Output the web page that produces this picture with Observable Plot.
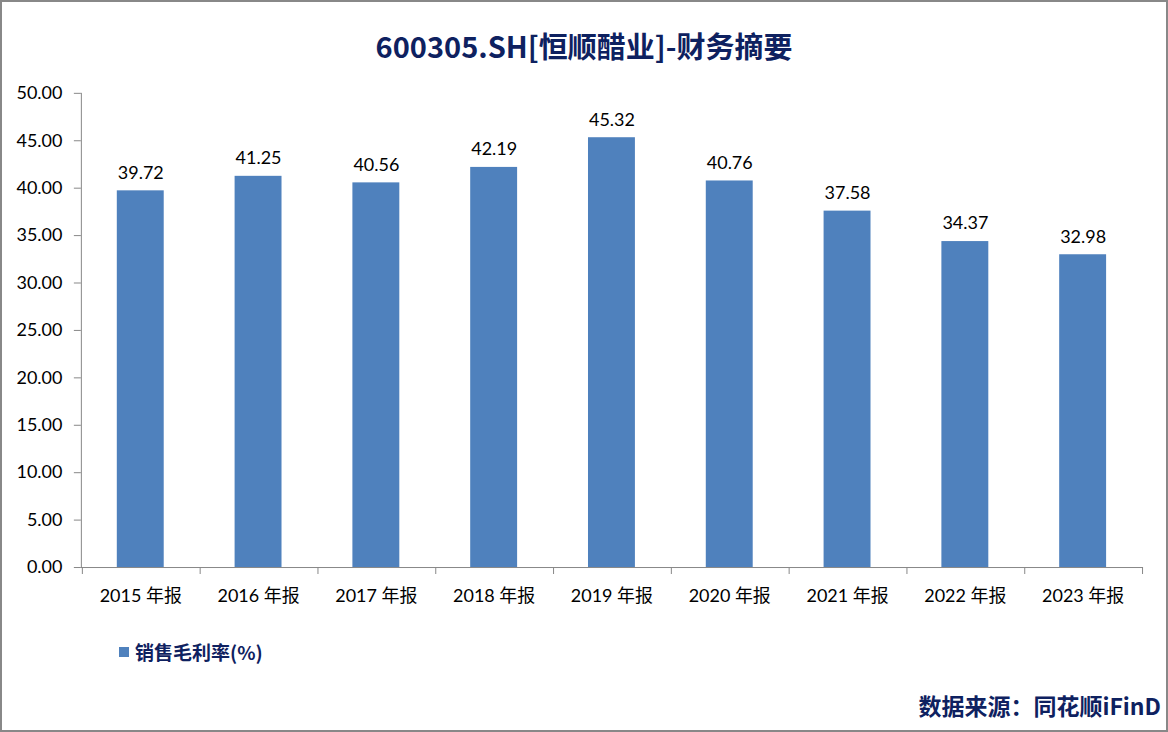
<!DOCTYPE html>
<html>
<head>
<meta charset="utf-8">
<script src="https://cdn.jsdelivr.net/npm/d3@7"></script>
<script src="https://cdn.jsdelivr.net/npm/@observablehq/plot@0.6"></script>
<style>
  html, body { margin: 0; padding: 0; background: #fff; }
  #frame { position: relative; width: 1168px; height: 732px; box-sizing: border-box; border: 2px solid #888; overflow: hidden; background: #fff; }
  #title { position: absolute; left: 0; right: 0; top: 23px; text-align: center; font-family: "Noto Sans CJK SC", sans-serif; font-weight: bold; font-size: 29px; color: #0E2160; line-height: 40px; }
  #chart { position: absolute; left: -2px; top: -2px; }
  #legend { position: absolute; left: 117px; top: 637px; font-family: "Noto Sans CJK SC", sans-serif; font-weight: bold; font-size: 19px; color: #0E2160; line-height: 26px; display: flex; align-items: center; }
  #legend .sw { width: 10px; height: 10px; background: #4F81BD; margin-right: 6px; }
  #source { position: absolute; right: 5px; top: 688px; font-family: "Noto Sans CJK SC", sans-serif; font-weight: bold; font-size: 23px; color: #0E2160; line-height: 30px; }
</style>
</head>
<body>
<div id="frame">
  <div id="title">600305.SH[恒顺醋业]-财务摘要</div>
  <div id="chart"></div>
  <div id="legend"><span class="sw"></span><span>销售毛利率(%)</span></div>
  <div id="source">数据来源：同花顺iFinD</div>
</div>
<script>
const categories = ["2015 年报", "2016 年报", "2017 年报", "2018 年报", "2019 年报", "2020 年报", "2021 年报", "2022 年报", "2023 年报"];
const values = [39.72, 41.25, 40.56, 42.19, 45.32, 40.76, 37.58, 34.37, 32.98];
const yTicks = [0, 5, 10, 15, 20, 25, 30, 35, 40, 45, 50];
const seriesName = "销售毛利率(%)";

const data = categories.map((c, i) => ({cat: c, value: values[i]}));

function axisLines(...args) {
  const scales = args.find(a => a && typeof a.x === "function");
  const dims = args.find(a => a && typeof a === "object" && "marginLeft" in a && "height" in a);
  const x = scales.x;
  const {marginLeft, marginTop, height, marginBottom} = dims;
  const y0 = height - marginBottom;
  const g = d3.create("svg:g").attr("stroke", "#888").attr("stroke-width", 1);
  g.append("line").attr("x1", marginLeft + 0.5).attr("x2", marginLeft + 0.5).attr("y1", marginTop).attr("y2", y0 + 0.5);
  const bw = x.bandwidth();
  const step = x.step();
  const edges = new Set();
  for (const c of categories) {
    const cx = x(c) + bw / 2;
    edges.add(Math.round(cx - step / 2));
    edges.add(Math.round(cx + step / 2));
  }
  for (const e of edges) {
    g.append("line").attr("x1", e + 0.5).attr("x2", e + 0.5).attr("y1", y0).attr("y2", y0 + 7);
  }
  return g.node();
}

const chart = Plot.plot({
  width: 1168,
  height: 620,
  marginLeft: 81,
  marginRight: 23,
  marginTop: 93,
  marginBottom: 52,
  style: {fontFamily: "Lato, 'Noto Sans CJK SC', sans-serif", fontSize: "18px", color: "#000", background: "transparent", overflow: "visible"},
  x: {domain: categories, paddingInner: 0.6, paddingOuter: 0.3, label: null},
  y: {domain: [0, 50], label: null},
  marks: [
    Plot.barY(data, {x: "cat", y: "value", fill: "#4F81BD"}),
    Plot.text(data, {x: "cat", y: "value", text: d => d.value.toFixed(2), dy: -18, fill: "#000", fontSize: 18}),
    Plot.axisY({ticks: yTicks, tickFormat: d => d.toFixed(2), tickSize: 7, tickPadding: 12, stroke: "#888", fill: "#000", fontSize: 18}),
    Plot.axisX({tickSize: 0, tickPadding: 22, fill: "#000", fontSize: 18}),
    Plot.ruleY([0], {stroke: "#888"}),
    axisLines
  ]
});
document.getElementById("chart").appendChild(chart);
</script>
</body>
</html>
